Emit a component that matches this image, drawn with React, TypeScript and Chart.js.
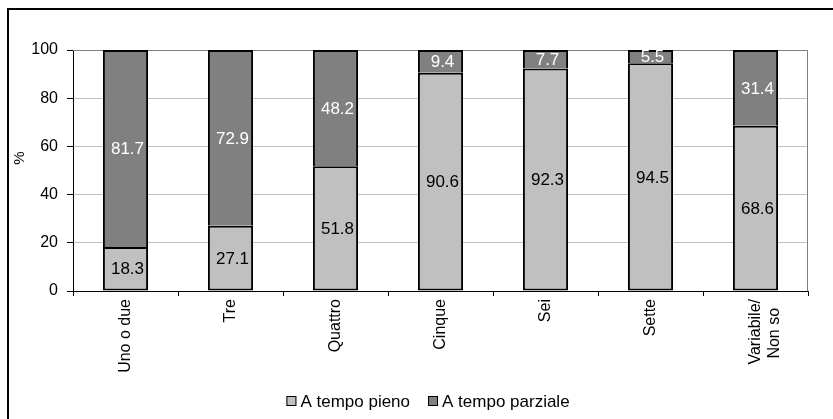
import React, { useEffect, useRef } from "react";
import { Chart, registerables } from "chart.js";

Chart.register(...registerables);

const categories: (string | string[])[] = [
  "Uno o due",
  "Tre",
  "Quattro",
  "Cinque",
  "Sei",
  "Sette",
  ["Variabile/", "Non so  "],
];
const seriesNames = ["A tempo pieno", "A tempo parziale"];
const fullTime = [18.3, 27.1, 51.8, 90.6, 92.3, 94.5, 68.6];
const partTime = [81.7, 72.9, 48.2, 9.4, 7.7, 5.5, 31.4];
const yTicks = [0, 20, 40, 60, 80, 100];

const LIGHT = "#C0C0C0";
const DARK = "#808080";
const FONT = "Arial, 'Liberation Sans', sans-serif";

// White page, outer frame, and grey top/right plot border
const framePlugin = {
  id: "frame",
  beforeDraw(chart: any) {
    const { ctx, width, height } = chart;
    ctx.save();
    ctx.fillStyle = "#fff";
    ctx.fillRect(0, 0, width, height);
    ctx.fillStyle = "#000";
    ctx.fillRect(7, 8, 2, height - 8);
    ctx.fillRect(7, 8, width - 7, 2);
    ctx.restore();
  },
  beforeDatasetsDraw(chart: any) {
    const { ctx, chartArea } = chart;
    ctx.save();
    ctx.strokeStyle = "#808080";
    ctx.lineWidth = 1;
    ctx.beginPath();
    ctx.moveTo(chartArea.left, chartArea.top + 0.5);
    ctx.lineTo(chartArea.right - 0.5, chartArea.top + 0.5);
    ctx.lineTo(chartArea.right - 0.5, chartArea.bottom);
    ctx.stroke();
    ctx.restore();
  },
};

// Value labels centred in each stacked segment
const valueLabelPlugin = {
  id: "valueLabels",
  afterDatasetsDraw(chart: any) {
    const { ctx } = chart;
    ctx.save();
    ctx.font = `17px ${FONT}`;
    ctx.textAlign = "center";
    ctx.textBaseline = "middle";
    chart.data.datasets.forEach((ds: any, di: number) => {
      const meta = chart.getDatasetMeta(di);
      meta.data.forEach((bar: any, i: number) => {
        const v = ds.data[i] as number;
        const p = bar.getProps(["x", "y", "base"], true);
        ctx.fillStyle = di === 0 ? "#000" : "#fff";
        ctx.fillText(v.toFixed(1), p.x + 2, (p.y + p.base) / 2 + 1);
      });
    });
    ctx.restore();
  },
};

// Y-axis "%" label and the bottom legend
const annotationPlugin = {
  id: "annotations",
  afterDraw(chart: any) {
    const { ctx } = chart;
    ctx.save();
    ctx.fillStyle = "#000";
    ctx.font = `15px ${FONT}`;
    ctx.textAlign = "center";
    ctx.textBaseline = "middle";
    ctx.translate(20, 158);
    ctx.rotate(-Math.PI / 2);
    ctx.fillText("%", 0, 0);
    ctx.restore();

    ctx.save();
    ctx.font = `17px ${FONT}`;
    ctx.textBaseline = "middle";
    const box = 10;
    const gap = 4;
    const itemGap = 18;
    const items = chart.data.datasets.map((ds: any) => ({
      label: ds.label as string,
      color: ds.backgroundColor as string,
      w: box + gap + ctx.measureText(ds.label).width,
    }));
    const total =
      items.reduce((s: number, it: any) => s + it.w, 0) +
      itemGap * (items.length - 1);
    let x = 428 - total / 2;
    const y = 401;
    items.forEach((it: any) => {
      ctx.fillStyle = it.color;
      ctx.fillRect(x, y - box / 2, box, box);
      ctx.strokeStyle = "#000";
      ctx.lineWidth = 1;
      ctx.strokeRect(x + 0.5, y - box / 2 + 0.5, box - 1, box - 1);
      ctx.fillStyle = "#000";
      ctx.textAlign = "left";
      ctx.fillText(it.label, x + box + gap, y + 1);
      x += it.w + itemGap;
    });
    ctx.restore();
  },
};

export default function App() {
  const ref = useRef<HTMLCanvasElement | null>(null);

  useEffect(() => {
    if (!ref.current) return;
    const chart = new Chart(ref.current, {
      type: "bar",
      data: {
        labels: categories,
        datasets: [
          {
            label: seriesNames[0],
            data: fullTime,
            backgroundColor: LIGHT,
            borderColor: "#000",
            borderWidth: 2,
            borderSkipped: false,
            barPercentage: 0.43,
            categoryPercentage: 1,
          },
          {
            label: seriesNames[1],
            data: partTime,
            backgroundColor: DARK,
            borderColor: "#000",
            borderWidth: 2,
            borderSkipped: "start",
            barPercentage: 0.43,
            categoryPercentage: 1,
          },
        ],
      },
      options: {
        responsive: false,
        animation: false,
        layout: { padding: { left: 0, right: 25, top: 50, bottom: 0 } },
        plugins: {
          legend: { display: false },
          tooltip: { enabled: false },
        },
        scales: {
          x: {
            stacked: true,
            afterFit: (s: any) => {
              s.height = 128;
            },
            grid: {
              drawOnChartArea: false,
              drawTicks: true,
              tickLength: 5,
              tickColor: "#000",
              offset: true,
            },
            border: { color: "#000", width: 1 },
            ticks: {
              color: "#000",
              font: { family: FONT, size: 16 },
              minRotation: 90,
              maxRotation: 90,
              padding: 3,
              autoSkip: false,
            },
          },
          y: {
            stacked: true,
            min: 0,
            max: 100,
            afterFit: (s: any) => {
              s.width = 73;
            },
            afterBuildTicks: (s: any) => {
              s.ticks = yTicks.map((v) => ({ value: v }));
            },
            grid: {
              color: "#C0C0C0",
              tickColor: "#000",
              tickLength: 6,
            },
            border: { color: "#000", width: 1 },
            ticks: {
              color: "#000",
              font: { family: FONT, size: 16 },
              padding: 9,
            },
          },
        },
      },
      plugins: [framePlugin, valueLabelPlugin, annotationPlugin],
    });
    return () => chart.destroy();
  }, []);

  return (
    <div style={{ position: "fixed", left: 0, top: 0, width: 833, height: 419 }}>
      <canvas ref={ref} width={833} height={419} style={{ display: "block" }} />
    </div>
  );
}
